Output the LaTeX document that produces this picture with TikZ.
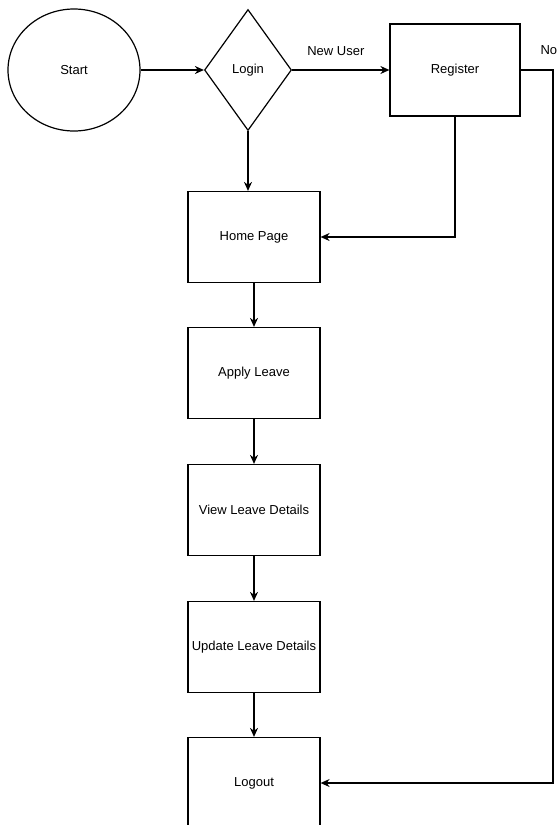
\documentclass[tikz,border=0pt]{standalone}
\usepackage{fontspec}
\setmainfont{Liberation Sans}
\usetikzlibrary{shapes.geometric,arrows.meta}

\begin{document}
\begin{tikzpicture}[x=1pt,y=-1pt,line width=1.2pt,
        every node/.style={font=\fontsize{13}{15}\selectfont},
        box/.style={draw,rectangle,minimum width=132pt,minimum height=91pt,inner sep=0pt},
        arr/.style={-{Stealth[length=9pt,width=8pt]}}]
        \useasboundingbox (0,0) rectangle (558,825);
        \node[draw,ellipse,minimum width=132pt,minimum height=122pt] (start) at (74,70) {Start};
        \node[draw,diamond,minimum width=87pt,minimum height=121pt,inner sep=0pt] (login) at (248,70) {Login};
        \node[box,minimum width=130pt,minimum height=92pt] (register) at (455,70) {Register};
        \node[box] (home) at (254,237) {Home Page};
        \node[box] (apply) at (254,373) {Apply Leave};
        \node[box] (view) at (254,510) {View Leave Details};
        \node[box] (update) at (254,647) {Update Leave Details};
        \node[box] (logout) at (254,783) {Logout};
        \coordinate (corner) at (553,70);
        \draw[arr] (start) -- (login);
        \draw[arr] (login) -- node[above=10pt,pos=.45] {New User} (register);
        \draw[arr] (login) -- (login |- home.north);
        \draw[arr] (register) |- (home);
        \draw[arr] (register) -- (corner) |- (logout);
        \node[anchor=south west,inner sep=0pt] (no) at (540,55) {No};
        \foreach \a/\b in {home/apply,apply/view,view/update,update/logout}
            \draw[arr] (\a) -- (\b);
    \end{tikzpicture}
\end{document}
